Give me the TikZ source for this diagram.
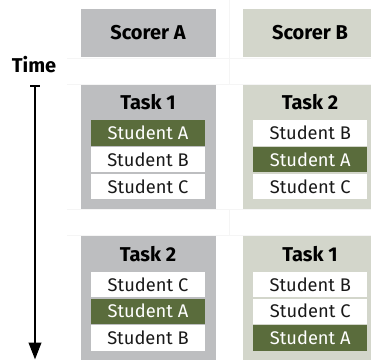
\documentclass[tikz,border=0pt]{standalone}
\usepackage{fontspec}
\setmainfont{Fira Sans}
\usetikzlibrary{arrows.meta}
\definecolor{scoreragray}{RGB}{189,190,192}
\definecolor{scorerbgray}{RGB}{211,214,203}
\definecolor{markgreen}{RGB}{90,108,60}
\definecolor{gridline}{RGB}{245,245,245}
\tikzset{
  colA/.style={fill=scoreragray, draw=none},
  colB/.style={fill=scorerbgray, draw=none},
  headtext/.style={font=\fontsize{20}{20}\selectfont\bfseries, text=black, inner sep=0pt},
  stud/.style={fill=white, draw=none, minimum width=114pt, minimum height=25.3pt, inner sep=0pt,
    font=\fontsize{18.3}{19}\selectfont, text=black!90, anchor=north},
  studhi/.style={stud, fill=markgreen, text=white},
  grid/.style={draw=gridline, line width=0.6pt},
}
\begin{document}
\begin{tikzpicture}[x=1pt, y=-1pt]
\useasboundingbox (0,0) rectangle (371,360);
% faint table rules
\draw[grid] (67,58) -- (371,58);
\draw[grid] (67,84) -- (371,84);
\draw[grid] (67,209.5) -- (371,209.5);
\draw[grid] (67,235.5) -- (371,235.5);
\draw[grid] (229.5,0) -- (229.5,84);
\draw[grid] (229.5,209.5) -- (229.5,235.5);
% scorer headers
\fill[colA] (80.5,9) rectangle (215.5,57);
\fill[colB] (242.5,9) rectangle (371,57);
\node[headtext] (scA) at (148,33) {Scorer A};
\node[headtext] (scB) at (310,33) {Scorer B};
% first round
\fill[colA] (80.5,84.5) rectangle (215.5,208.5);
\fill[colB] (242.5,84.5) rectangle (371,208.5);
\node[headtext] (t1a) at (148,102.5) {Task 1};
\node[headtext] (t1b) at (310,102.5) {Task 2};
\node[studhi] (r1a1) at (148,120) {Student A};
\node[stud]   (r1a2) at (148,146.8) {Student B};
\node[stud]   (r1a3) at (148,173.6) {Student C};
\node[stud]   (r1b1) at (310.25,120) {Student B};
\node[studhi] (r1b2) at (310.25,146.8) {Student A};
\node[stud]   (r1b3) at (310.25,173.6) {Student C};
% second round
\fill[colA] (80.5,236) rectangle (215.5,360);
\fill[colB] (242.5,236) rectangle (371,360);
\node[headtext] (t2a) at (148,254) {Task 2};
\node[headtext] (t2b) at (310,254) {Task 1};
\node[stud]   (r2a1) at (148,271.5) {Student C};
\node[studhi] (r2a2) at (148,298.3) {Student A};
\node[stud]   (r2a3) at (148,325.1) {Student B};
\node[stud]   (r2b1) at (310.25,271.5) {Student B};
\node[stud]   (r2b2) at (310.25,298.3) {Student C};
\node[studhi] (r2b3) at (310.25,325.1) {Student A};
% time axis
\node[headtext] (time) at (34,65) {Time};
\coordinate (tstart) at (35,85);
\coordinate (tend) at (35,359.5);
\draw[line width=2.4pt, {Bar[width=9.5pt,line width=2.2pt]}-{Triangle[width=12.5pt,length=17pt]}] (tstart) -- (tend);
\end{tikzpicture}
\end{document}
